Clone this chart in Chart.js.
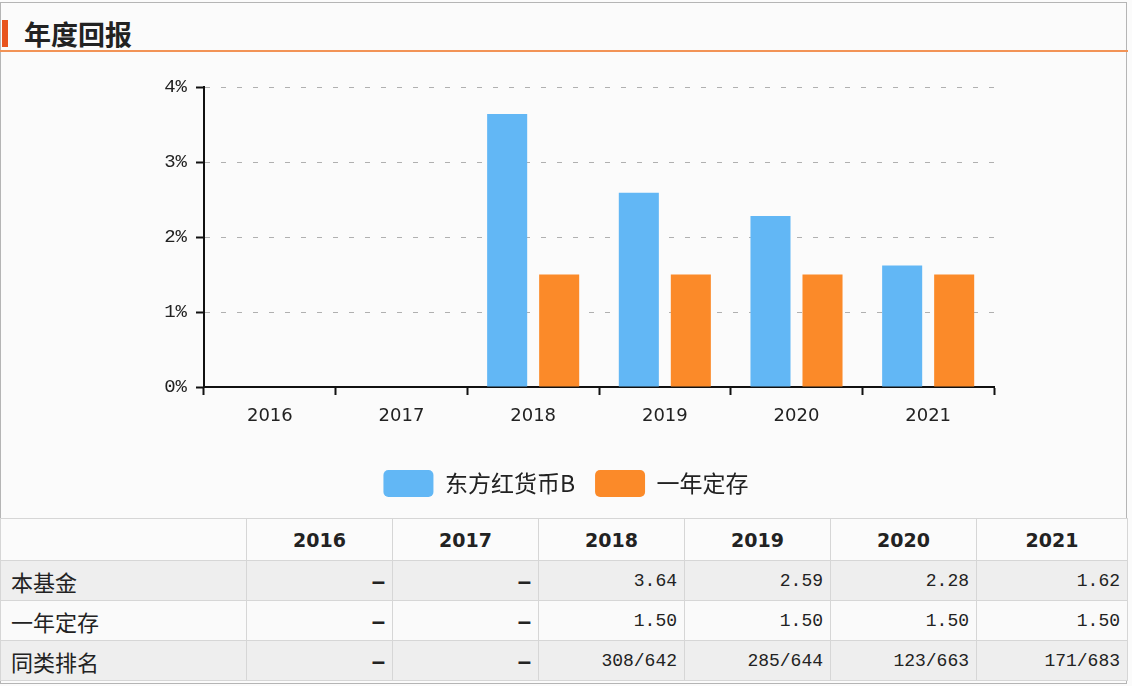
<!DOCTYPE html>
<html>
<head>
<meta charset="utf-8">
<script src="https://cdn.jsdelivr.net/npm/chart.js@4.4.1/dist/chart.umd.min.js"></script>
<style>
  body { margin: 0; background: #fbfbfb; font-family: "Noto Sans CJK SC", sans-serif; }
  #page { position: relative; width: 1132px; height: 686px; overflow: hidden; }
  #frame { position: absolute; left: 0; top: 2px; width: 1127px; height: 682px; border: 1px solid #b5b5b5; box-sizing: border-box; }
  #head { position: absolute; left: 0; top: 2px; width: 1128px; height: 48px; border-bottom: 2px solid #f29356; }
  #head .mark { position: absolute; left: 2px; top: 18px; width: 6px; height: 27px; background: #e8541e; }
  #head .title { position: absolute; left: 24px; top: 13px; font-size: 27px; font-weight: bold; color: #222; line-height: 38px; }
  #chartBox { position: absolute; left: 0; top: 55px; width: 1132px; height: 460px; }
  table { position: absolute; left: 0; top: 518px; width: 1128px; border-collapse: collapse; z-index: 2; table-layout: fixed; }
  td, th { border: 1px solid #d6d6d6; padding: 0 7px 0 0; text-align: right; font-size: 18px; color: #222; }
  th { height: 41px; font-family: "DejaVu Sans", sans-serif; font-weight: bold; font-size: 19px; text-align: center; background: #fbfbfb; padding: 0; }
  td { height: 39px; font-family: "Liberation Mono", monospace; }
  td.lbl { text-align: left; padding-left: 10px; font-family: "Noto Sans CJK SC", sans-serif; font-size: 22px; }
  td.dash { font-family: "Liberation Sans", sans-serif; font-weight: bold; font-size: 24px; }
  tr.g td { background: #eeeeee; }
  tr.w td { background: #fafafa; }
</style>
</head>
<body>
<div id="page">
  <div id="frame"></div>
  <div id="head"><div class="mark"></div><div class="title">年度回报</div></div>
  <div id="chartBox"><canvas id="retChart"></canvas></div>
  <table id="tbl"></table>
</div>
<script>
// years shown on the x axis and in the table
const years = ['2016', '2017', '2018', '2019', '2020', '2021'];
// annual return, %, null where there is no data
const fundReturn = [null, null, 3.64, 2.59, 2.28, 1.62];
const depositReturn = [null, null, 1.50, 1.50, 1.50, 1.50];
const peerRank = [null, null, '308/642', '285/644', '123/663', '171/683'];
const yTicks = [0, 1, 2, 3, 4];

const ctx = document.getElementById('retChart').getContext('2d');
const retChart = new Chart(ctx, {
    type: 'bar',
    data: {
        labels: years,
        datasets: [{
            label: '东方红货币B',
            data: fundReturn,
            backgroundColor: '#62b7f5',
            categoryPercentage: 0.79,
            barPercentage: 0.77
        }, {
            label: '一年定存',
            data: depositReturn,
            backgroundColor: '#fb8a29',
            categoryPercentage: 0.79,
            barPercentage: 0.77
        }]
    },
    options: {
        responsive: true,
        maintainAspectRatio: false,
        animation: false,
        layout: { padding: { top: 32, left: 138, right: 138, bottom: 8 } },
        plugins: {
            tooltip: { enabled: false },
            legend: {
                position: 'bottom',
                labels: {
                    boxWidth: 50,
                    boxHeight: 27,
                    padding: 20,
                    useBorderRadius: true,
                    borderRadius: 5,
                    color: '#222',
                    font: { family: '"Noto Sans CJK SC", sans-serif', size: 23 }
                }
            }
        },
        scales: {
            x: {
                afterFit: s => { s.height = 63; },
                grid: { drawOnChartArea: false, tickLength: 8, tickColor: '#111', tickWidth: 2 },
                border: { color: '#111', width: 2 },
                ticks: { padding: 11, color: '#222', font: { family: '"DejaVu Sans", sans-serif', size: 18 } }
            },
            y: {
                min: 0,
                max: 4,
                afterFit: s => { s.width = 66; },
                afterBuildTicks: s => { s.ticks = yTicks.map(v => ({ value: v })); },
                grid: { color: '#b0b0b0', lineWidth: 1, tickLength: 8, tickColor: '#111', tickWidth: 2 },
                border: { color: '#111', width: 2, dash: [5, 11] },
                ticks: {
                    padding: 9,
                    color: '#222',
                    font: { family: '"Liberation Mono", monospace', size: 19 },
                    callback: v => v + '%'
                }
            }
        }
    }
});

// table under the chart
const fmt = v => v === null ? '–' : v.toFixed(2);
const rows = [
    ['本基金', fundReturn.map(fmt), 'g'],
    ['一年定存', depositReturn.map(fmt), 'w'],
    ['同类排名', peerRank.map(v => v === null ? '–' : v), 'g']
];
let html = '<colgroup><col style="width:246px">' + years.map((y, i) => '<col style="width:' + (i === 5 ? 151 : 146) + 'px">').join('') + '</colgroup>';
html += '<tr><th></th>' + years.map(y => '<th>' + y + '</th>').join('') + '</tr>';
rows.forEach(r => {
    html += '<tr class="' + r[2] + '"><td class="lbl">' + r[0] + '</td>' +
        r[1].map(v => '<td' + (v === '–' ? ' class="dash"' : '') + '>' + v + '</td>').join('') + '</tr>';
});
document.getElementById('tbl').innerHTML = html;
</script>
</body>
</html>
